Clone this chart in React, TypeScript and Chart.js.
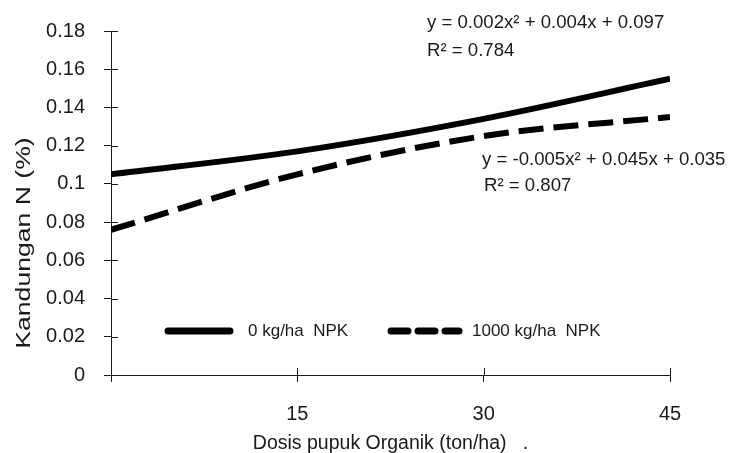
import React, { useEffect, useRef } from "react";
import { Chart, registerables } from "chart.js";

Chart.register(...registerables);

// ---- data ----
const doses = [0, 15, 30, 45]; // Dosis pupuk Organik (ton/ha)
const npk0 = [0.105, 0.117, 0.134, 0.155]; // 0 kg/ha NPK
const npk1000 = [0.076, 0.105, 0.125, 0.135]; // 1000 kg/ha NPK
const seriesLabels = ["0 kg/ha  NPK", "1000 kg/ha  NPK"];
const xTickValues = [0, 15, 30, 45];
const yMin = 0;
const yMax = 0.18;
const yStep = 0.02;
const eq0 = ["y = 0.002x² + 0.004x + 0.097", "R² = 0.784"];
const eq1000 = ["y = -0.005x² + 0.045x + 0.035", "R² = 0.807"];
const xTitle = "Dosis pupuk Organik (ton/ha)   .";
const yTitle = "Kandungan N (%)";

const FONT = "'Liberation Sans', Arial, sans-serif";
const INK = "#1a1a1a";

const extrasPlugin = {
  id: "extras",
  afterDraw(chart: any) {
    const ctx = chart.ctx as CanvasRenderingContext2D;
    const { left, bottom } = chart.chartArea;
    const xs = chart.scales.x;
    const ys = chart.scales.y;

    // inner halves of the crossing tick marks
    ctx.save();
    ctx.strokeStyle = INK;
    ctx.lineWidth = 1;
    ctx.beginPath();
    ys.ticks.forEach((t: any) => {
      const p = Math.round(ys.getPixelForValue(t.value)) + 0.5;
      ctx.moveTo(left, p);
      ctx.lineTo(left + 7, p);
    });
    xs.ticks.forEach((t: any) => {
      const p = Math.round(xs.getPixelForValue(t.value)) + 0.5;
      ctx.moveTo(p, bottom);
      ctx.lineTo(p, bottom - 7);
    });
    ctx.stroke();
    ctx.restore();

    // equations
    ctx.save();
    ctx.fillStyle = INK;
    ctx.font = `18.6px ${FONT}`;
    ctx.textAlign = "left";
    ctx.textBaseline = "middle";
    ctx.fillText(eq0[0], 427, 23);
    ctx.fillText(eq0[1], 427, 51);
    ctx.fillText(eq1000[0], 482, 160);
    ctx.fillText(eq1000[1], 484, 186);
    ctx.restore();

    // legend drawn from the datasets
    const slots = [
      { x0: 165, x1: 233, tx: 248 },
      { x0: 388, x1: 462, tx: 472 },
    ];
    chart.data.datasets.forEach((ds: any, i: number) => {
      const s = slots[i];
      const y = 331;
      ctx.save();
      ctx.strokeStyle = ds.borderColor;
      ctx.lineWidth = 7;
      ctx.lineCap = "round";
      ctx.setLineDash(ds.borderDash && ds.borderDash.length ? [17, 10] : []);
      ctx.beginPath();
      ctx.moveTo(s.x0 + 3, y);
      ctx.lineTo(s.x1 - 3, y);
      ctx.stroke();
      ctx.setLineDash([]);
      ctx.fillStyle = INK;
      ctx.font = `17px ${FONT}`;
      ctx.textAlign = "left";
      ctx.textBaseline = "middle";
      ctx.fillText(ds.label, s.tx, y);
      ctx.restore();
    });

    // y axis title (stretched along its length like the reference)
    ctx.save();
    ctx.fillStyle = INK;
    ctx.font = `20px ${FONT}`;
    ctx.translate(24, 243);
    ctx.rotate(-Math.PI / 2);
    ctx.scale(1.33, 1);
    ctx.textAlign = "center";
    ctx.textBaseline = "middle";
    ctx.fillText(yTitle, 0, 0);
    ctx.restore();
  },
};

export default function App() {
  const ref = useRef<HTMLCanvasElement | null>(null);

  useEffect(() => {
    if (!ref.current) return;
    const chart = new Chart(ref.current, {
      type: "line",
      data: {
        datasets: [
          {
            label: seriesLabels[0],
            data: doses.map((d, i) => ({ x: d, y: npk0[i] })),
            borderColor: "#000",
            borderWidth: 6,
            pointRadius: 0,
            cubicInterpolationMode: "monotone",
            fill: false,
            borderDash: [],
          },
          {
            label: seriesLabels[1],
            data: doses.map((d, i) => ({ x: d, y: npk1000[i] })),
            borderColor: "#000",
            borderWidth: 6,
            pointRadius: 0,
            cubicInterpolationMode: "monotone",
            fill: false,
            borderDash: [25, 10],
          },
        ],
      },
      options: {
        animation: false,
        responsive: false,
        layout: { padding: { top: 24, right: 62, bottom: 0, left: 0 } },
        plugins: {
          legend: { display: false },
          tooltip: { enabled: false },
        },
        scales: {
          x: {
            type: "linear",
            min: 0,
            max: 45,
            afterBuildTicks: (scale: any) => {
              scale.ticks = xTickValues.map((v) => ({ value: v }));
            },
            afterFit: (scale: any) => {
              scale.height = 78;
            },
            ticks: {
              color: INK,
              font: { family: FONT, size: 20 },
              padding: 20,
              maxRotation: 0,
              callback: (v: any) => (v === 0 ? "" : String(v)),
            },
            grid: {
              drawOnChartArea: false,
              drawTicks: true,
              tickLength: 7,
              color: INK,
            },
            border: { color: INK, width: 1 },
            title: {
              display: true,
              text: xTitle,
              color: INK,
              font: { family: FONT, size: 19.5, lineHeight: 1 },
              padding: { top: 0, bottom: 0 },
            },
          },
          y: {
            type: "linear",
            min: yMin,
            max: yMax,
            afterFit: (scale: any) => {
              scale.width = 111;
            },
            ticks: {
              stepSize: yStep,
              color: INK,
              font: { family: FONT, size: 20 },
              padding: 19,
              callback: (v: any) => String(Number(Number(v).toFixed(2))),
            },
            grid: {
              drawOnChartArea: false,
              drawTicks: true,
              tickLength: 7,
              color: INK,
            },
            border: { color: INK, width: 1 },
          },
        },
      },
      plugins: [extrasPlugin],
    } as any);
    return () => chart.destroy();
  }, []);

  return (
    <div
      style={{
        position: "fixed",
        left: 0,
        top: 0,
        width: 732,
        height: 453,
        background: "#fff",
      }}
    >
      <canvas ref={ref} width={732} height={453} style={{ width: 732, height: 453 }} />
    </div>
  );
}
